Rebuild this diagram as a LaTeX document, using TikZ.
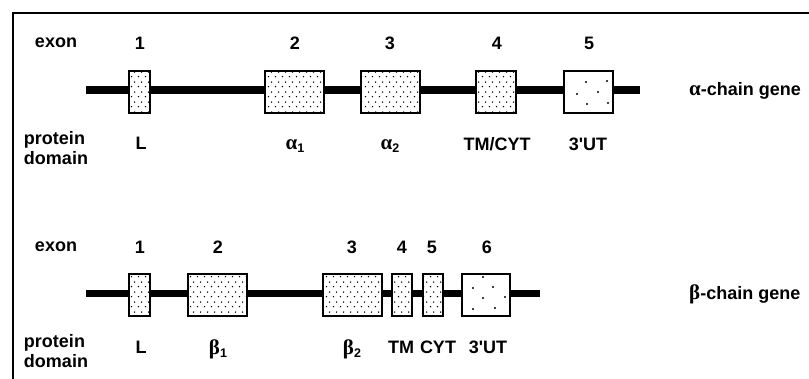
\documentclass[tikz,border=0pt]{standalone}
\usepackage{fontspec}
\setmainfont{Liberation Sans}
\newfontfamily\grk{Liberation Serif}
\usetikzlibrary{patterns.meta,calc}
\tikzdeclarepattern{name=exdots, type=uncolored, bounding box={(0pt,0pt) and (6.5pt,10pt)}, tile size={(6.5pt,10pt)},
  code={\fill (1.6pt,2.5pt) circle (0.85pt); \fill (4.85pt,7.5pt) circle (0.85pt);}}
\tikzset{
  lbl/.style={font=\fontsize{18}{20}\selectfont\bfseries, inner sep=0pt, anchor=center},
  exbox/.style={draw=black, line width=1.3pt, fill=white, postaction={pattern=exdots}, inner sep=0pt, minimum height=42pt},
  utrbox/.style={draw=black, line width=1.3pt, fill=white, inner sep=0pt, minimum height=42pt},
  geneline/.style={line width=7.5pt},
  frameline/.style={line width=2.5pt},
  spot/.style={fill=black},
}
\newcommand{\gk}[2]{{\grk\fontsize{21}{21}\selectfont #1}\raisebox{-3.5pt}{\fontsize{12.5}{12.5}\selectfont\bfseries #2}}
\newcommand{\utr}{3\textquotesingle UT}
\begin{document}
\begin{tikzpicture}[x=1pt,y=-1pt]
\useasboundingbox (0,0) rectangle (809,379);
% frame
\coordinate (ftr) at (809,13);
\coordinate (ftl) at (13,13);
\coordinate (fbl) at (13,379);
\draw[frameline] (ftr) -- (ftl) -- (fbl);

% ---------- alpha chain ----------
\coordinate (as) at (86,90);
\coordinate (ae) at (640,90);
\draw[geneline] (as) -- (ae);
\node[exbox, minimum width=21pt] (a1) at (139.5,92) {};
\node[exbox, minimum width=59pt] (a2) at (294.5,92) {};
\node[exbox, minimum width=59pt] (a3) at (390.5,92) {};
\node[exbox, minimum width=40pt] (a4) at (496,92) {};
\node[utrbox, minimum width=49pt] (a5) at (588.5,92) {};
\foreach \dx/\dy in {-2.5/-10, 18.5/-11, 9.5/0, -11.5/2, -1.5/12, 19.5/11} \fill[spot] ($(a5)+(\dx,\dy)$) circle (1.1pt);

\node[lbl] (aex) at (56,43) {exon};
\node[lbl] (an1) at (140,43) {1};
\node[lbl] (an2) at (295,43) {2};
\node[lbl] (an3) at (390,43) {3};
\node[lbl] (an4) at (497,43) {4};
\node[lbl] (an5) at (589,43) {5};
\node[lbl, align=left, font=\fontsize{18}{20}\selectfont\bfseries] (apd) at (56,148) {protein\\domain};
\node[lbl] (aL) at (141,143) {L};
\node[lbl] (aal1) at (295,146) {\gk{α}{1}};
\node[lbl] (aal2) at (390,146) {\gk{α}{2}};
\node[lbl] (atm) at (497,144) {TM/CYT};
\node[lbl] (autr) at (588,144) {\utr};
\node[lbl, anchor=west] (agene) at (689,91) {{\grk\fontsize{21}{21}\selectfont α}-chain gene};

% ---------- beta chain ----------
\coordinate (bs) at (86,293.5);
\coordinate (be) at (540,293.5);
\draw[geneline] (bs) -- (be);
\node[exbox, minimum width=21pt] (b1) at (139.5,295) {};
\node[exbox, minimum width=59pt] (b2) at (217.5,295) {};
\node[exbox, minimum width=59pt] (b3) at (352.5,295) {};
\node[exbox, minimum width=20pt] (b4) at (402,295) {};
\node[exbox, minimum width=20pt] (b5) at (433,295) {};
\node[utrbox, minimum width=48pt] (b6) at (486,295) {};
\foreach \dx/\dy in {-3/-18, -13/-7, 7/-8, -3/3, 19/2, -13/14, 9/13} \fill[spot] ($(b6)+(\dx,\dy)$) circle (1.1pt);

\node[lbl] (bex) at (56,247) {exon};
\node[lbl] (bn1) at (140,247) {1};
\node[lbl] (bn2) at (218,247) {2};
\node[lbl] (bn3) at (352,247) {3};
\node[lbl] (bn4) at (402,247) {4};
\node[lbl] (bn5) at (432,247) {5};
\node[lbl] (bn6) at (487,247) {6};
\node[lbl, align=left, font=\fontsize{18}{20}\selectfont\bfseries] (bpd) at (56,351) {protein\\domain};
\node[lbl] (bL) at (141,347) {L};
\node[lbl] (bbe1) at (218,349) {\gk{β}{1}};
\node[lbl] (bbe2) at (352,349) {\gk{β}{2}};
\node[lbl] (btm) at (401,347) {TM};
\node[lbl] (bcyt) at (438,347) {CYT};
\node[lbl] (butr) at (488,347) {\utr};
\node[lbl, anchor=west] (bgene) at (689,294) {{\grk\fontsize{21}{21}\selectfont β}-chain gene};
\end{tikzpicture}
\end{document}
